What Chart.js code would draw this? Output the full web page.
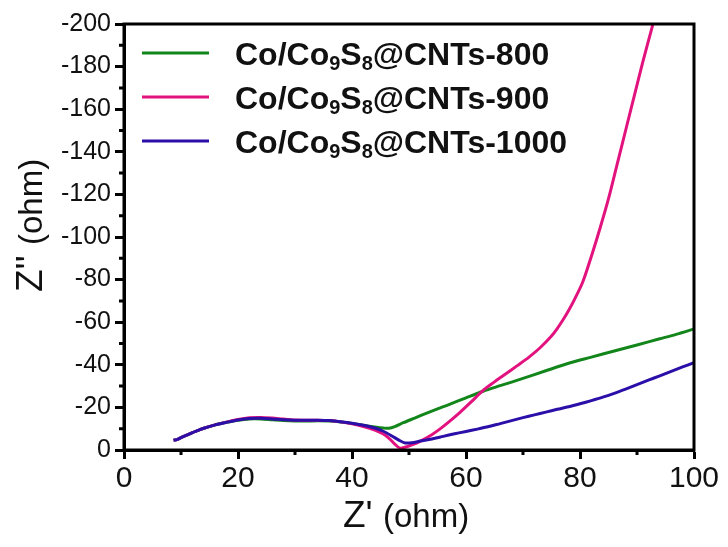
<!DOCTYPE html>
<html>
<head>
<meta charset="utf-8">
<script src="https://cdn.jsdelivr.net/npm/chart.js@4"></script>
<style>
  body { margin: 0; background: #fff; }
  #nyquist { display: block; }
</style>
</head>
<body>
<canvas id="nyquist" width="728" height="547"></canvas>
<script>
// Nyquist data, Z' (ohm) against Z'' (ohm)
const zReal800 = [8.7, 9.3, 10, 11, 12, 13, 14, 16, 18, 20, 22, 24, 26, 28, 30, 32, 34, 36, 38, 40, 42, 44, 45.5, 46.5, 47.5, 49, 51, 53, 55, 57, 60, 63, 66, 70, 74, 78, 82, 86, 90, 94, 97, 100];
const zImag800 = [-4.6, -4.9, -5.8, -7, -8.2, -9.2, -10.2, -11.8, -13, -14, -14.6, -14.6, -14.2, -13.8, -13.6, -13.6, -13.7, -13.6, -13.2, -12.5, -11.6, -10.8, -10.3, -10.2, -11, -12.8, -15, -17.2, -19.3, -21.3, -24.5, -27.6, -30.2, -33.6, -37.2, -40.7, -43.6, -46.5, -49.3, -52.2, -54.4, -56.8];

const zReal900 = [8.7, 9.3, 10, 11, 12, 13, 14, 16, 18, 20, 22, 24, 26, 28, 30, 32, 34, 36, 38, 40, 42, 44, 45.5, 46.5, 47.5, 48.4, 49.3, 50.5, 52, 54, 55.4, 57, 59, 61, 63, 65, 67, 69, 71, 73, 75, 76, 77, 78, 79, 80.5, 82, 83.5, 85, 86.5, 88, 89.5, 91, 92.5, 93.2];
const zImag900 = [-4.6, -4.9, -5.8, -7, -8.2, -9.2, -10.2, -11.8, -13.1, -14.3, -15.1, -15.3, -15, -14.5, -14.1, -14, -14, -13.8, -13.2, -12.3, -11, -9.3, -7.5, -5.5, -2.8, -0.9, -1.3, -2.4, -4.2, -7.2, -9.8, -13.2, -17.8, -22.8, -28, -32, -35.8, -39.6, -43.5, -48, -53.5, -57, -61, -65.5, -70.5, -79, -91, -104, -118, -134, -150, -166, -182, -197, -204];

const zReal1000 = [8.7, 9.3, 10, 11, 12, 13, 14, 16, 18, 20, 22, 24, 26, 28, 30, 32, 34, 36, 38, 40, 42, 44, 45.5, 47, 48.3, 49.3, 50.5, 52, 54, 56, 58, 60, 62, 64, 66, 68, 70, 72, 74, 76, 78, 80, 82, 84, 86, 88, 90, 92, 94, 96, 98, 100];
const zImag1000 = [-4.6, -4.9, -5.8, -7, -8.2, -9.2, -10.2, -11.8, -13, -14.1, -14.8, -14.9, -14.6, -14.2, -14, -14, -14, -13.8, -13.3, -12.6, -11.6, -10.3, -8.8, -6.6, -4.5, -3.3, -3.4, -4.2, -5.2, -6.4, -7.6, -8.7, -9.8, -11, -12.4, -13.8, -15.2, -16.5, -17.8, -19.1, -20.3, -21.7, -23.2, -24.8, -26.6, -28.6, -30.7, -32.8, -34.8, -36.9, -39, -41];

const seriesNames = ["-800", "-900", "-1000"];
const seriesColors = ["#13861b", "#e2137f", "#2c0ea8"];
const xTicks = [0, 20, 40, 60, 80, 100];
const yTicks = [0, -20, -40, -60, -80, -100, -120, -140, -160, -180, -200];

const FONT = "'Liberation Sans', Arial, sans-serif";

function toPoints(xs, ys) {
  return xs.map((x, i) => ({ x: x, y: ys[i] }));
}

// frame, minor ticks, axis titles and the legend
const decorations = {
  id: "decorations",
  afterDraw(chart) {
    const ctx = chart.ctx;
    const area = chart.chartArea;
    const sx = chart.scales.x;
    const sy = chart.scales.y;
    ctx.save();

    ctx.strokeStyle = "#000";
    ctx.lineWidth = 3;
    ctx.strokeRect(area.left, area.top, area.right - area.left, area.bottom - area.top);

    // minor ticks halfway between the labelled ones
    ctx.beginPath();
    for (let i = 0; i < xTicks.length - 1; i++) {
      const px = sx.getPixelForValue((xTicks[i] + xTicks[i + 1]) / 2);
      ctx.moveTo(px, area.bottom);
      ctx.lineTo(px, area.bottom + 5);
    }
    for (let i = 0; i < yTicks.length - 1; i++) {
      const py = sy.getPixelForValue((yTicks[i] + yTicks[i + 1]) / 2);
      ctx.moveTo(area.left, py);
      ctx.lineTo(area.left - 5, py);
    }
    ctx.stroke();

    // axis titles
    ctx.fillStyle = "#111";
    ctx.textBaseline = "alphabetic";
    ctx.textAlign = "left";
    ctx.font = "37px " + FONT;
    ctx.fillText("Z'", 343, 527);
    let w = ctx.measureText("Z' ").width;
    ctx.font = "33px " + FONT;
    ctx.fillText("(ohm)", 343 + w, 527);

    ctx.save();
    ctx.translate(42, 292);
    ctx.rotate(-Math.PI / 2);
    ctx.font = "37px " + FONT;
    ctx.fillText("Z''", 0, 0);
    w = ctx.measureText("Z'' ").width;
    ctx.font = "33px " + FONT;
    ctx.fillText("(ohm)", w, 0);
    ctx.restore();

    // legend
    const rows = [53, 97, 141];
    rows.forEach((ly, i) => {
      ctx.strokeStyle = seriesColors[i];
      ctx.lineWidth = 3;
      ctx.beginPath();
      ctx.moveTo(142, ly);
      ctx.lineTo(209, ly);
      ctx.stroke();

      let tx = 235;
      const base = ly + 12;
      const parts = [
        ["Co/Co", 0, 32],
        ["9", 5, 20],
        ["S", 0, 32],
        ["8", 5, 20],
        ["@CNTs" + seriesNames[i], 0, 32],
      ];
      ctx.fillStyle = "#111";
      parts.forEach(([txt, dy, size]) => {
        ctx.font = "bold " + size + "px " + FONT;
        ctx.fillText(txt, tx, base + dy);
        tx += ctx.measureText(txt).width;
      });
    });

    ctx.restore();
  },
};

const chart = new Chart(document.getElementById("nyquist"), {
  type: "scatter",
  data: {
    datasets: [
      {
        label: "Co/Co9S8@CNTs-800",
        data: toPoints(zReal800, zImag800),
        borderColor: seriesColors[0],
        order: 2,
      },
      {
        label: "Co/Co9S8@CNTs-900",
        data: toPoints(zReal900, zImag900),
        borderColor: seriesColors[1],
        order: 1,
      },
      {
        label: "Co/Co9S8@CNTs-1000",
        data: toPoints(zReal1000, zImag1000),
        borderColor: seriesColors[2],
        order: 0,
      },
    ],
  },
  options: {
    responsive: false,
    animation: false,
    showLine: true,
    elements: {
      point: { radius: 0 },
      line: { borderWidth: 3, tension: 0.3 },
    },
    layout: { padding: { top: 24, right: 34, left: 0, bottom: 0 } },
    plugins: {
      legend: { display: false },
      tooltip: { enabled: false },
    },
    scales: {
      x: {
        type: "linear",
        min: 0,
        max: 100,
        afterBuildTicks: (s) => { s.ticks = xTicks.map((v) => ({ value: v })); },
        afterFit: (s) => { s.height = 97; },
        ticks: { color: "#111", font: { family: FONT, size: 30 }, padding: 2 },
        grid: { drawOnChartArea: false, tickLength: 9, tickWidth: 3, tickColor: "#000" },
        border: { color: "#000", width: 3 },
      },
      y: {
        type: "linear",
        min: -200,
        max: 0,
        reverse: true,
        afterBuildTicks: (s) => { s.ticks = yTicks.map((v) => ({ value: v })); },
        afterFit: (s) => { s.width = 124; },
        ticks: { color: "#111", font: { family: FONT, size: 25 }, padding: 4 },
        grid: { drawOnChartArea: false, tickLength: 9, tickWidth: 3, tickColor: "#000" },
        border: { color: "#000", width: 3 },
      },
    },
  },
  plugins: [decorations],
});
</script>
</body>
</html>
